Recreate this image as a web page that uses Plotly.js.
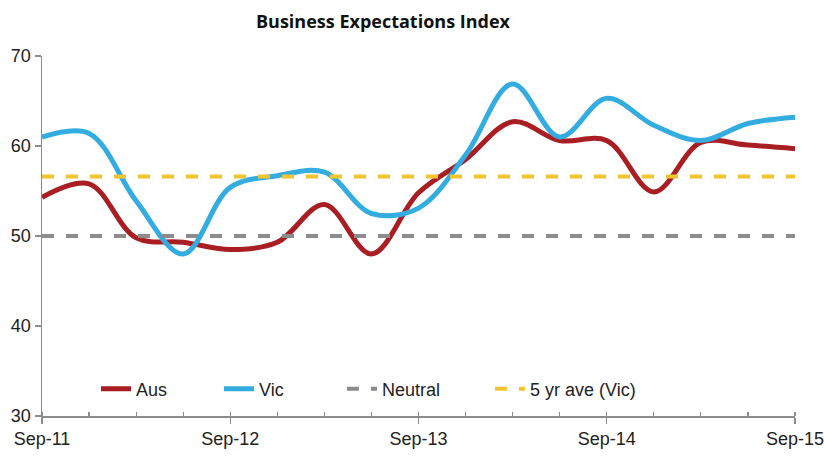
<!DOCTYPE html>
<html>
<head>
<meta charset="utf-8">
<script src="https://cdn.plot.ly/plotly-3.0.1.min.js"></script>
<style>html,body{margin:0;padding:0;background:#fff;}#chart{width:824px;height:460px;}</style>
</head>
<body>
<div id="chart"></div>
<script>
const quarters = ["Sep-11","Dec-11","Mar-12","Jun-12","Sep-12","Dec-12","Mar-13","Jun-13","Sep-13","Dec-13","Mar-14","Jun-14","Sep-14","Dec-14","Mar-15","Jun-15","Sep-15"];
const aus = [54.3, 55.8, 49.8, 49.3, 48.5, 49.3, 53.5, 48.0, 54.8, 58.5, 62.7, 60.6, 60.6, 54.9, 60.4, 60.1, 59.7];
const vic = [61.0, 61.4, 53.9, 48.0, 55.4, 56.7, 57.1, 52.5, 53.1, 59.0, 66.9, 61.0, 65.3, 62.3, 60.6, 62.5, 63.2];
const neutral = [50, 50, 50, 50, 50, 50, 50, 50, 50, 50, 50, 50, 50, 50, 50, 50, 50];
const fiveYrAve = [56.6, 56.6, 56.6, 56.6, 56.6, 56.6, 56.6, 56.6, 56.6, 56.6, 56.6, 56.6, 56.6, 56.6, 56.6, 56.6, 56.6];
const tickLabels = ["Sep-11","Sep-12","Sep-13","Sep-14","Sep-15"];

const xIdx = quarters.map((q, i) => i);
const tickVals = tickLabels.map(t => quarters.indexOf(t));

const sans = "'Liberation Sans', Arial, sans-serif";

const traces = [
  {x: xIdx, y: aus, name: "Aus", type: "scatter", mode: "lines",
   line: {color: "#A81E22", width: 5, shape: "spline", smoothing: 1}},
  {x: xIdx, y: vic, name: "Vic", type: "scatter", mode: "lines",
   line: {color: "#33ACE0", width: 5, shape: "spline", smoothing: 1}},
  {x: xIdx, y: neutral, name: "Neutral", type: "scatter", mode: "lines",
   line: {color: "#8C8C8C", width: 4, dash: "dash"}},
  {x: xIdx, y: fiveYrAve, name: "5 yr ave (Vic)", type: "scatter", mode: "lines", legend: "legend2",
   line: {color: "#F2C530", width: 4, dash: "dash"}}
];

const legendY = (416 - 389) / 360;

const layout = {
  width: 824, height: 460,
  margin: {l: 42, r: 29, t: 56, b: 44},
  paper_bgcolor: "#fff", plot_bgcolor: "#fff",
  title: {text: "<b>Business Expectations Index</b>", x: 383/824, xanchor: "center", y: 1 - 22/460, yanchor: "middle",
          font: {family: "'Open Sans', sans-serif", size: 18, color: "#111"}},
  font: {family: sans, size: 18, color: "#222"},
  xaxis: {
    range: [0, 16], tickmode: "array", tickvals: tickVals, ticktext: tickLabels,
    showgrid: false, zeroline: false, showline: true, linecolor: "#8C8C8C", linewidth: 1.5,
    ticks: "outside", ticklen: 6, tickcolor: "#8C8C8C", tickwidth: 1.2,
    minor: {dtick: 1, ticks: "inside", ticklen: 4, tickcolor: "#8C8C8C", showgrid: false},
    ticklabeloverflow: "allow",
    tickfont: {family: sans, size: 18, color: "#222"}, fixedrange: true
  },
  yaxis: {
    range: [30, 70], dtick: 10, showgrid: false, zeroline: false,
    showline: true, linecolor: "#8C8C8C", linewidth: 1.5,
    ticks: "outside", ticklen: 6, tickcolor: "#8C8C8C", tickwidth: 1.2,
    tickfont: {family: sans, size: 18, color: "#222"}, fixedrange: true
  },
  showlegend: true,
  legend: {orientation: "h", x: (96 - 42) / 753, xanchor: "left", y: legendY, yanchor: "middle",
           bgcolor: "rgba(0,0,0,0)", font: {family: sans, size: 18, color: "#222"}, traceorder: "normal",
           entrywidth: 78, entrywidthmode: "pixels"},
  legend2: {orientation: "h", x: (490 - 42) / 753, xanchor: "left", y: legendY, yanchor: "middle",
           bgcolor: "rgba(0,0,0,0)", font: {family: sans, size: 18, color: "#222"}}
};

Plotly.newPlot("chart", traces, layout, {displayModeBar: false, staticPlot: true});
</script>
</body>
</html>
